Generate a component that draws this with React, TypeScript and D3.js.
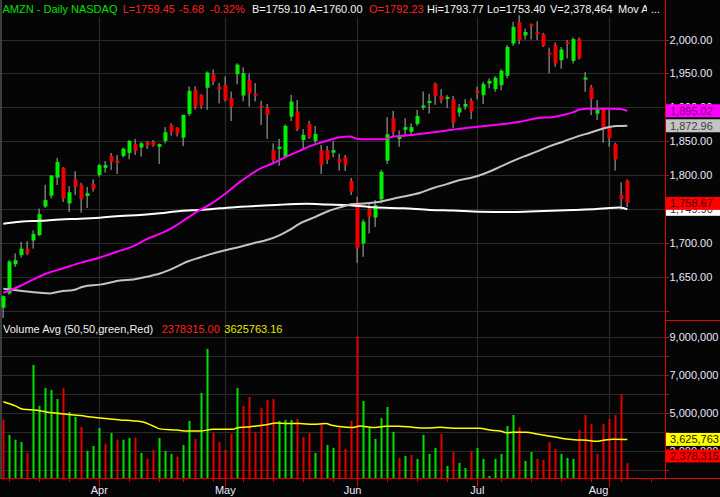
import React, { useEffect } from "react";
import * as d3 from "d3";

// ---------- DATA ----------
const opens = [1605,1626,1669,1682.5,1692,1704,1712,1754,1770,1796.5,1811,1758.7,1794,1785.7,1769.5,1787,1800.5,1811,1828.5,1821,1828.5,1833,1846,1841,1849,1849,1842,1850.6,1873.8,1870,1855.6,1890.5,1926,1918.5,1929,1949,1930,1933,1913.6,1949,1917.5,1940.6,1920,1901,1899,1837,1839,1827.5,1886.5,1894,1852,1875.7,1850.6,1837,1837,1833.4,1824,1826.5,1791.6,1760,1699.7,1750,1738,1764.6,1821.6,1884,1854,1867,1864,1875.7,1900.8,1907,1934.7,1917,1913,1912,1892.4,1901.3,1909.6,1924.4,1918,1935,1927,1932.8,1946.6,1994,2025.5,2006,2021.6,2010.8,2007.8,1980,1991.7,1969.6,1996,1968.6,2000.5,1942,1929.4,1890.7,1898,1870.6,1846,1771,1792.23];
const highs = [1623,1675,1685,1702,1703,1719,1751,1786,1800.5,1825.6,1812,1784,1806,1789,1783,1794,1816.7,1821,1833,1830,1841,1852,1853.6,1849,1850.6,1852,1847,1871,1876.7,1871,1889,1930.8,1931,1919.5,1953,1956,1935.7,1945.5,1923.4,1965,1959,1949.5,1935.7,1909.6,1905,1847,1853.6,1875,1918.5,1911,1868,1880,1872.8,1844.7,1843,1850.6,1831.5,1830,1796,1768.5,1735,1758.7,1763.6,1808,1885.6,1895,1866,1884,1876.7,1896.4,1923.4,1920,1936.7,1926.9,1918,1917,1905,1912,1913.6,1930.8,1937.7,1942.6,1946,1956.4,1991.7,2026,2035.8,2016,2023.5,2027,2009.8,1988,1995.6,1989,1999,2003,2003,1952,1933,1910.8,1899.5,1897,1848,1789.7,1793.77];
const lows = [1590,1624,1665,1679,1682.5,1692,1710.5,1752,1766,1785.7,1760.7,1746,1771,1745,1752,1776,1798,1804,1808,1802,1826.5,1823.6,1830,1827.5,1839,1842,1816.7,1847,1858.5,1857,1843,1887.5,1897,1898,1896.4,1933,1906,1908.7,1880,1934,1909,1901,1908.7,1874,1853.6,1818.7,1814,1826.5,1880,1865,1840,1853.6,1847,1802,1816.7,1826.5,1807,1806.4,1771,1671,1680,1714.4,1724,1758.7,1816.7,1857,1842,1859.5,1859.5,1872.8,1896.4,1891,1903.7,1906,1899,1870,1886.5,1896.4,1882.6,1912,1905,1928,1923,1925.5,1942.6,1990.7,1993,2000,2000,1999,1989,1950,1959.8,1957,1972,1964.7,1970.6,1923,1888.7,1881.4,1848,1842,1806.9,1749,1753.4];
const closes = [1622,1673,1675,1692,1685,1713.5,1743,1763.6,1799.5,1819.7,1765.6,1775,1783,1765,1773.5,1780,1815,1815,1820,1818,1839,1850.6,1836,1847,1844,1844,1846,1863.4,1864,1861,1889,1924.4,1901,1902.8,1951.4,1938,1927,1911,1901,1962.8,1950.5,1920,1917.5,1900,1889,1822.6,1842,1872.8,1908.7,1868,1859.5,1856,1861,1815,1822.6,1837,1818.7,1815,1776,1693.3,1731.7,1739,1756,1805,1860.5,1864,1856,1871,1871,1887.5,1901.8,1909,1917,1911,1915,1877.7,1898.8,1905,1894,1922,1934.3,1939,1943.6,1954,1989,2018.6,1999,2011,2020.6,2007.8,1990.7,1978.4,1964.7,1985.3,1993.6,2000.5,1973,1943,1912,1897,1870.6,1855,1823.5,1765,1759.45];

// volume in millions and up(1)/down(0) colouring
const volumes = [4.67,3.86,3.61,3.49,2.91,7.54,5.39,6.33,6.23,5.75,6.33,5.07,4.81,4.28,3.02,3.28,4.23,3.39,3.96,3.61,3.61,3.70,3.72,2.91,2.60,3.07,3.70,3.02,2.86,2.72,3.33,4.60,3.65,6.07,8.39,3.96,3.49,3.07,3.91,6.33,5.39,5.86,4.02,5.28,5.70,5.75,4.60,4.65,4.65,4.70,3.75,3.96,2.91,4.39,3.33,3.18,4.23,3.12,4.60,9.07,5.65,4.23,3.65,4.75,5.33,4.02,2.65,2.75,2.81,2.60,3.86,2.86,3.18,3.91,2.23,2.96,2.39,2.12,3.02,3.18,2.60,1.70,2.60,2.86,4.33,4.91,4.28,2.49,2.96,2.60,2.54,3.49,3.12,2.86,2.65,2.60,4.12,4.91,4.44,2.86,4.44,4.70,4.91,6.02,2.378];
const volUp = [0,1,1,1,0,1,1,1,1,1,0,1,1,0,1,1,1,0,1,0,1,1,0,1,0,0,1,1,1,0,1,1,0,1,1,0,0,0,0,1,0,0,0,0,0,0,1,1,1,0,0,0,1,0,1,1,0,0,0,0,1,1,1,1,1,1,0,1,0,1,1,1,1,0,1,0,1,1,0,1,1,1,1,1,1,1,0,1,1,0,0,0,0,1,1,1,0,0,0,0,0,0,0,0,0];

// moving averages (bar index, value)
const ma50Idx = [0,2.8,5,7.2,10,12.8,16.1,19.5,21.7,23.9,27.2,28.9,30.6,32.8,35,37.2,39.5,41.1,42.8,45,47.2,49.4,51.1,52.8,54.4,56.1,57.8,58.9,60.6,63.4,65,67.2,70,72.8,75.6,78.3,80.6,83.3,86.1,88.9,91.7,93.3,95,96.1,97.2,101.1,102.8,104];
const ma50Val = [1627,1637,1646.6,1655.4,1663,1671,1679,1689,1695.8,1706,1718,1726.7,1736.6,1749,1760,1774.4,1790.7,1800.5,1810,1817.7,1827.5,1836,1843,1848,1852,1856,1857,1854,1853,1853,1857,1858.5,1861.5,1864.4,1868,1870.8,1873,1875.5,1879,1884,1886,1888.7,1893,1897,1898,1898,1897.5,1895];
const ma100Idx = [0,2.8,6.1,7.8,9.5,11.7,13.3,16.1,19.5,21.7,23.9,26.1,28.3,30.6,32.8,35,37.2,39.5,41.7,43.9,46.1,47.8,49.4,51.7,53.9,56.1,58.3,60.6,62.8,65,67.2,69.5,71.7,73.9,76.1,78.3,80,82.2,84.4,86.7,88.9,91.1,93.3,95.6,97.8,100,102.2,104];
const ma100Val = [1632.8,1630,1627,1626,1629,1631,1636,1639,1645,1646.6,1650.5,1655.4,1663,1672.7,1679,1685,1690,1694.8,1700,1704.6,1712,1720,1729,1737.6,1746.4,1752.8,1757.7,1758.7,1761,1765.6,1769.5,1774.4,1781.3,1787,1793,1797,1802,1810,1819,1827.5,1834.8,1843,1849.5,1857,1862.7,1869,1872.5,1873];
const ma200Idx = [0,2.8,6.1,9.5,12.8,16.1,19.5,22.8,26.1,29.5,32.8,36.1,39.5,42.8,46.1,50.6,53.9,57.8,61.7,66.7,71.1,75,79.4,85,88.9,95,98.9,101.1,102.8,104];
const ma200Val = [1728.7,1731.7,1733,1735,1736,1737.6,1740,1741.5,1744,1747.4,1749,1751.3,1753.8,1755,1756.7,1758,1757,1756,1752.8,1751.3,1749,1748,1746.5,1746,1747,1749,1750.5,1752,1752.5,1750];
const volAvgIdx = [0,2,3.3,5.6,7.8,10.6,12.8,15,17.2,19.5,21.7,23.3,25,26.1,28.9,30.6,32.8,35,38.3,38.9,40.5,42.2,43.8,45.5,47.2,49.4,51.6,53.8,54.7,56,58.3,59.4,61.6,63.8,66,68.3,70.5,72.8,75,79.4,81.1,82.8,83.9,85,87.2,88.9,90.6,92.2,93.9,95.6,97.2,98.9,100,101.7,104];
const volAvgVal = [5.61,5.39,5.21,5.16,5.04,4.95,4.88,4.79,4.72,4.65,4.60,4.54,4.33,4.18,4.12,4.07,4.07,4.16,4.16,4.23,4.28,4.33,4.40,4.49,4.46,4.46,4.42,4.46,4.37,4.30,4.25,4.33,4.25,4.32,4.32,4.26,4.23,4.26,4.21,4.21,4.12,4.07,3.98,4.00,4.00,3.91,3.82,3.74,3.65,3.60,3.58,3.53,3.58,3.63,3.626];

// axis
const monthStartIdx = [16, 37, 59, 79, 101];
const monthLabelIdx = [16, 37, 58.2, 79, 99.2];
const monthLabels = ["Apr", "May", "Jun", "Jul", "Aug"];
const weekStartIdx = [1, 6, 11, 21, 26, 30, 35, 40, 45, 50, 55, 64, 69, 74, 83, 88, 93, 98, 103, 108];
const priceTicks = [1600, 1650, 1700, 1750, 1800, 1850, 1900, 1950, 2000];
const priceLabels = [1650, 1700, 1750, 1800, 1850, 1900, 1950, 2000];
const volTicks = [2, 3, 4, 5, 6, 7, 8, 9];
const volLabels = [3, 5, 7, 9];

// last-value labels
const ma50Last = 1895.02;
const ma100Last = 1872.96;
const ma200Last = 1749.9;
const lastPrice = 1758.67;
const volAvgLast = 3.625763;
const volLast = 2.378315;

const FONT = "'Liberation Sans', Arial, sans-serif";
const GRID = "#2a2a2a";
const AXIS_RED = "#e00000";
const TXT = "#e8e8ff";

export default function App() {
  useEffect(() => {
    document.body.style.margin = "0";
    document.body.style.background = "#000";
  }, []);

  const W = 720, H = 497;
  const plotR = 665;
  const priceBottom = 320;
  const volTop = 321, volBottom = 478;

  const x = d3.scaleLinear().domain([0, 104]).range([3.3, 627.3]);
  const yP = d3.scaleLinear().domain([1800, 2000]).range([175.3, 39.5]);
  const yV = d3.scaleLinear().domain([3, 9]).range([451.3, 337.3]);

  const cx = (i: number) => Math.round(x(i));

  const mkLine = (idx: number[], vals: number[], ys: (v: number) => number) =>
    d3.line<number>().x((_, k) => x(idx[k])).y((v) => ys(v)).curve(d3.curveMonotoneX)(vals) || "";

  const fmtP = d3.format(",.2f");
  const fmtV = d3.format(",");

  const priceLabel = (v: number, fill: string, txt: string, key: string) => {
    const y = yP(v);
    return (
      <g key={key}>
        <rect x={666} y={y - 6.5} width={54} height={13} fill={fill} />
        <text x={670} y={y + 4} fill={txt} fontSize={11} fontFamily={FONT}>{fmtP(v)}</text>
      </g>
    );
  };

  const volLabelBox = (yy: number, fill: string, txt: string, text: string) => (
    <g>
      <rect x={666} y={yy - 6.5} width={54} height={13} fill={fill} />
      <text x={670} y={yy + 4} fill={txt} fontSize={11} fontFamily={FONT}>{text}</text>
    </g>
  );

  return (
    <svg width={W} height={H} style={{ position: "absolute", left: 0, top: 0, display: "block" }}>
      <defs>
        <clipPath id="priceClip"><rect x={0} y={0} width={plotR} height={priceBottom} /></clipPath>
        <clipPath id="volClip"><rect x={0} y={volTop} width={plotR} height={volBottom - volTop} /></clipPath>
        <clipPath id="hdrClip"><rect x={0} y={0} width={647} height={20} /></clipPath>
      </defs>
      <rect x={0} y={0} width={W} height={H} fill="#050505" />

      {/* price grid */}
      {priceTicks.map((p) => (
        <line key={"pg" + p} x1={0} x2={plotR} y1={Math.round(yP(p)) + 0.5} y2={Math.round(yP(p)) + 0.5} stroke={GRID} strokeWidth={1.2} />
      ))}
      {/* volume grid */}
      {volTicks.map((v) => (
        <line key={"vg" + v} x1={0} x2={plotR} y1={Math.round(yV(v)) + 0.5} y2={Math.round(yV(v)) + 0.5} stroke={GRID} strokeWidth={1.2} />
      ))}
      {/* month grid */}
      {monthStartIdx.map((i) => (
        <line key={"mg" + i} x1={cx(i) + 0.5} x2={cx(i) + 0.5} y1={17} y2={volBottom} stroke={GRID} strokeWidth={1.2} />
      ))}
      <line x1={1} x2={1} y1={0} y2={volBottom} stroke="#505050" strokeWidth={1.5} />

      {/* candles */}
      <g clipPath="url(#priceClip)">
        {opens.map((o, i) => {
          const c = closes[i];
          const up = c >= o;
          const yTop = yP(Math.max(o, c));
          const yBot = yP(Math.min(o, c));
          const raw = yBot - yTop;
          const h = Math.max(2, raw);
          return (
            <g key={"c" + i}>
              <rect x={cx(i) - 0.5} y={yP(highs[i])} width={1.3} height={yP(lows[i]) - yP(highs[i])} fill="#8a8a8a" />
              <rect x={cx(i) - 1.5} y={yTop - (h - raw) / 2} width={4} height={h} fill={up ? "#00f000" : "#f00000"} />
            </g>
          );
        })}
        <path d={mkLine(ma200Idx, ma200Val, yP)} fill="none" stroke="#ffffff" strokeWidth={2} />
        <path d={mkLine(ma100Idx, ma100Val, yP)} fill="none" stroke="#c4c4c4" strokeWidth={2} />
        <path d={mkLine(ma50Idx, ma50Val, yP)} fill="none" stroke="#ff00ff" strokeWidth={2} />
      </g>

      {/* volume */}
      <g clipPath="url(#volClip)">
        {volumes.map((v, i) => (
          <rect key={"v" + i} x={cx(i) - 0.5} y={yV(v)} width={2} height={volBottom - yV(v)} fill={volUp[i] ? "#00e000" : "#e00000"} />
        ))}
        <path d={mkLine(volAvgIdx, volAvgVal, yV)} fill="none" stroke="#ffff00" strokeWidth={1.5} />
      </g>

      {/* header */}
      <g fontFamily={FONT} fontSize={11}>
        <text x={2.5} y={13} fill="#00e000">AMZN - Daily</text>
        <text x={71} y={13} fill="#00e000">NASDAQ</text>
        <text x={122.7} y={13} fill="#ff2020">L=1759.45</text>
        <text x={179} y={13} fill="#ff2020">-5.68</text>
        <text x={210} y={13} fill="#ff2020">-0.32%</text>
        <text x={252} y={13} fill="#f4f4f4">B=1759.10</text>
        <text x={309} y={13} fill="#f4f4f4">A=1760.00</text>
        <text x={369} y={13} fill="#ff2020">O=1792.23</text>
        <text x={427} y={13} fill="#f4f4f4">Hi=1793.77</text>
        <text x={487} y={13} fill="#f4f4f4">Lo=1753.40</text>
        <text x={550} y={13} fill="#f4f4f4">V=2,378,464</text>
        <text x={618} y={13} fill="#f4f4f4" clipPath="url(#hdrClip)">Mov Av</text>
        <text x={651} y={13} fill="#f4f4f4">...</text>
      </g>

      {/* volume header */}
      <g fontFamily={FONT} fontSize={11}>
        <text x={3} y={333} fill="#f0f0f0">Volume Avg (50,50,green,Red)</text>
        <text x={161.7} y={333} fill="#ff2020">2378315.00</text>
        <text x={224.3} y={333} fill="#e8e800">3625763.16</text>
      </g>

      {/* axes frame */}
      <rect x={plotR} y={0} width={W - plotR} height={volBottom} fill="#050505" />
      <line x1={plotR + 0.5} x2={plotR + 0.5} y1={0} y2={volBottom} stroke={AXIS_RED} strokeWidth={1} />
      <line x1={plotR} x2={W} y1={320.5} y2={320.5} stroke={AXIS_RED} strokeWidth={1} />
      <line x1={0} x2={W} y1={478.5} y2={478.5} stroke={AXIS_RED} strokeWidth={1} />

      {priceTicks.map((p) => (
        <line key={"pt" + p} x1={plotR} x2={plotR + 4} y1={Math.round(yP(p)) + 0.5} y2={Math.round(yP(p)) + 0.5} stroke={AXIS_RED} />
      ))}
      {priceLabels.map((p) => (
        <text key={"pl" + p} x={669.5} y={yP(p) + 4} fill={TXT} fontSize={11} fontFamily={FONT}>{fmtP(p)}</text>
      ))}
      {volTicks.map((v) => (
        <line key={"vt" + v} x1={plotR} x2={plotR + 4} y1={Math.round(yV(v)) + 0.5} y2={Math.round(yV(v)) + 0.5} stroke={AXIS_RED} />
      ))}
      {volLabels.map((v) => (
        <text key={"vl" + v} x={669.5} y={yV(v) + 4} fill={TXT} fontSize={11} fontFamily={FONT}>{fmtV(v * 1e6)}</text>
      ))}

      {/* x axis */}
      {weekStartIdx.map((i) => (
        <line key={"wt" + i} x1={cx(i) + 0.5} x2={cx(i) + 0.5} y1={478} y2={482} stroke={AXIS_RED} />
      ))}
      {monthStartIdx.map((i) => (
        <line key={"mt" + i} x1={cx(i) + 0.5} x2={cx(i) + 0.5} y1={478} y2={487} stroke={AXIS_RED} />
      ))}
      {monthLabels.map((m, k) => (
        <text key={"ml" + m} x={x(monthLabelIdx[k])} y={494} fill={TXT} fontSize={11} fontFamily={FONT} textAnchor="middle">{m}</text>
      ))}

      {/* last value labels */}
      {priceLabel(ma50Last, "#ff00ff", "#7a007a", "m50")}
      {priceLabel(ma100Last, "#c4c4c4", "#404040", "m100")}
      {priceLabel(ma200Last, "#ffffff", "#303050", "m200")}
      {priceLabel(lastPrice, "#ff0000", "#4a0000", "last")}
      {volLabelBox(yV(volAvgLast), "#ffff00", "#202000", fmtV(Math.round(volAvgLast * 1e6)))}
      {volLabelBox(Math.min(yV(volLast), volBottom - 22), "#ff0000", "#4a0000", fmtV(Math.round(volLast * 1e6)))}
    </svg>
  );
}
